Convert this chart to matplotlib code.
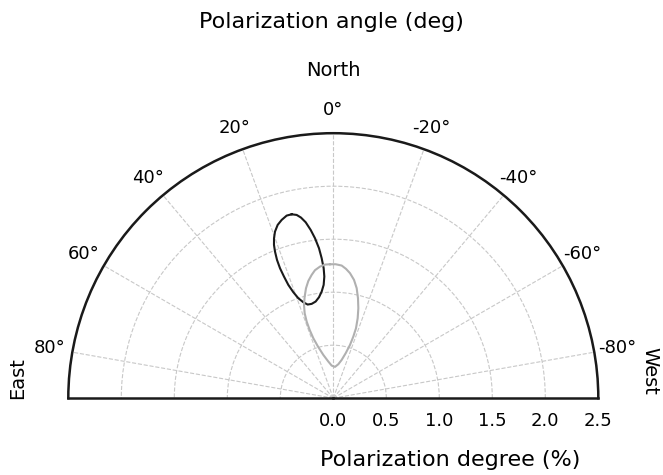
import numpy as np
import matplotlib
matplotlib.use('Agg')
import matplotlib.pyplot as plt

# contours: angle (deg), degree (%)
black_theta = [12.75, 14.32, 16.15, 17.80, 19.29, 20.34, 21.15, 21.68, 22.15, 22.30,
               22.07, 21.65, 20.67, 19.28, 17.34, 15.31, 12.92, 10.34, 8.06, 6.22,
               4.86, 4.22, 4.24, 4.75, 5.45, 6.53, 7.66, 8.92, 10.14, 11.30]
black_r = [1.779, 1.778, 1.751, 1.717, 1.665, 1.609, 1.551, 1.489, 1.409, 1.325,
           1.238, 1.150, 1.069, 0.999, 0.948, 0.916, 0.913, 0.927, 0.962, 1.012,
           1.073, 1.151, 1.230, 1.325, 1.421, 1.519, 1.602, 1.680, 1.731, 1.763]

gray_theta = [1.41, 3.55, 5.77, 8.14, 9.95, 12.02, 13.94, 15.73, 17.43, 18.62,
              19.16, 19.09, 18.42, 16.51, 12.97, 7.73, 2.86, -3.11, -8.42, -12.33,
              -15.38, -17.40, -18.00, -17.97, -16.95, -15.55, -13.88, -12.00, -9.93, -7.61,
              -5.61, -3.61, -1.01]
gray_r = [1.264, 1.263, 1.248, 1.220, 1.181, 1.131, 1.069, 0.996, 0.923, 0.846,
          0.765, 0.682, 0.596, 0.508, 0.419, 0.349, 0.308, 0.296, 0.324, 0.370,
          0.440, 0.527, 0.611, 0.694, 0.789, 0.881, 0.971, 1.061, 1.133, 1.190,
          1.226, 1.254, 1.264]

r_ticks = [0.0, 0.5, 1.0, 1.5, 2.0, 2.5]
theta_ticks = [-80, -60, -40, -20, 0, 20, 40, 60, 80]

W, H = 663, 475
fig = plt.figure(figsize=(W / 100, H / 100), dpi=100)
# square box, the half disk sits centred in it
cx, cy, rad = 333.3, 265.7, 265
ax = fig.add_axes([(cx - rad) / W, 1 - (cy + rad) / H, 2 * rad / W, 2 * rad / H],
                  projection='polar')
ax.set_theta_zero_location('N')
ax.set_theta_direction(1)
ax.set_thetamin(-90)
ax.set_thetamax(90)
ax.set_rlim(0, 2.5)

def closed(t, r):
    t = np.deg2rad(np.r_[t, t[0]])
    return t, np.r_[r, r[0]]

t, r = closed(black_theta, black_r)
ax.plot(t, r, color='#1a1a1a', lw=1.5)
t, r = closed(gray_theta, gray_r)
ax.plot(t, r, color='#b0b0b0', lw=1.5)

ax.set_thetagrids(theta_ticks, ['%d°' % a for a in theta_ticks])
ax.set_rgrids(r_ticks, ['%.1f' % v for v in r_ticks])
ax.grid(True, color='#c8c8c8', ls='--', lw=0.8)
ax.tick_params(axis='y', length=0, pad=10, labelsize=13)
ax.tick_params(axis='x', pad=6, labelsize=13)
for s in ax.spines.values():
    s.set_linewidth(1.8)
    s.set_color('#1a1a1a')

fig.text(0.5, 1 - 22 / H, 'Polarization angle (deg)', ha='center', va='center', fontsize=16)
fig.text(333 / W, 1 - 70 / H, 'North', ha='center', va='center', fontsize=14)
fig.text(18 / W, 1 - 378 / H, 'East', ha='center', va='center', rotation=90, fontsize=14)
fig.text(650 / W, 1 - 371 / H, 'West', ha='center', va='center', rotation=-90, fontsize=14)
fig.text(450 / W, 1 - 460 / H, 'Polarization degree (%)', ha='center', va='center', fontsize=16)

fig.savefig('out.png', dpi=100)
